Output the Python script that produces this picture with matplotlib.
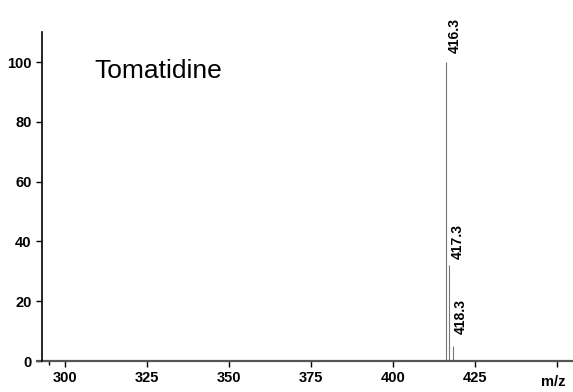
import matplotlib.pyplot as plt
from matplotlib.lines import Line2D

plt.rcParams['font.family'] = ['Liberation Sans', 'DejaVu Sans']

# Peak data
mz = [416.3, 417.3, 418.3]
intensity = [100, 32, 5]
peak_labels = ["416.3", "417.3", "418.3"]
label_heights = [103, 34, 9]

xticks = [300, 325, 350, 375, 400, 425, 450]
yticks = [0, 20, 40, 60, 80, 100]

fig = plt.figure(figsize=(5.73, 3.92), dpi=100)
ax = fig.add_axes([0.0733, 0.079, 0.9267, 0.839])

ax.vlines(mz, 0, intensity, color="#777777", linewidth=0.8)

for x, h, lab in zip(mz, label_heights, peak_labels):
    ax.text(x + 2.6, h, lab, rotation=90, ha="center", va="bottom",
            fontsize=10, fontweight="bold")

ax.text(309, 97, "Tomatidine", fontsize=19, va="center")

ax.set_xlim(293, 455)
ax.set_ylim(0, 110)
ax.set_xticks(xticks)
ax.set_xticklabels([str(t) for t in xticks[:-1]] + [""])
ax.set_yticks(yticks)
ax.tick_params(labelsize=10.5, length=4, width=1)
for lab in ax.get_xticklabels() + ax.get_yticklabels():
    lab.set_fontweight("bold")
ax.set_xticks([295], minor=True)
ax.tick_params(axis="x", which="minor", length=3, width=1)

ax.spines["top"].set_visible(False)
ax.spines["right"].set_visible(False)
ax.spines["bottom"].set_visible(False)
ax.spines["left"].set_linewidth(1.2)

# x axis line extends a little left of the y axis
ax.add_line(Line2D([-0.01, 1.0], [0, 0], transform=ax.transAxes,
                   color="#555555", linewidth=1.6, clip_on=False))

ax.text(449, -7, "m/z", ha="center", va="center", fontsize=10.5,
        fontweight="bold")

fig.savefig("out.png", dpi=100)
